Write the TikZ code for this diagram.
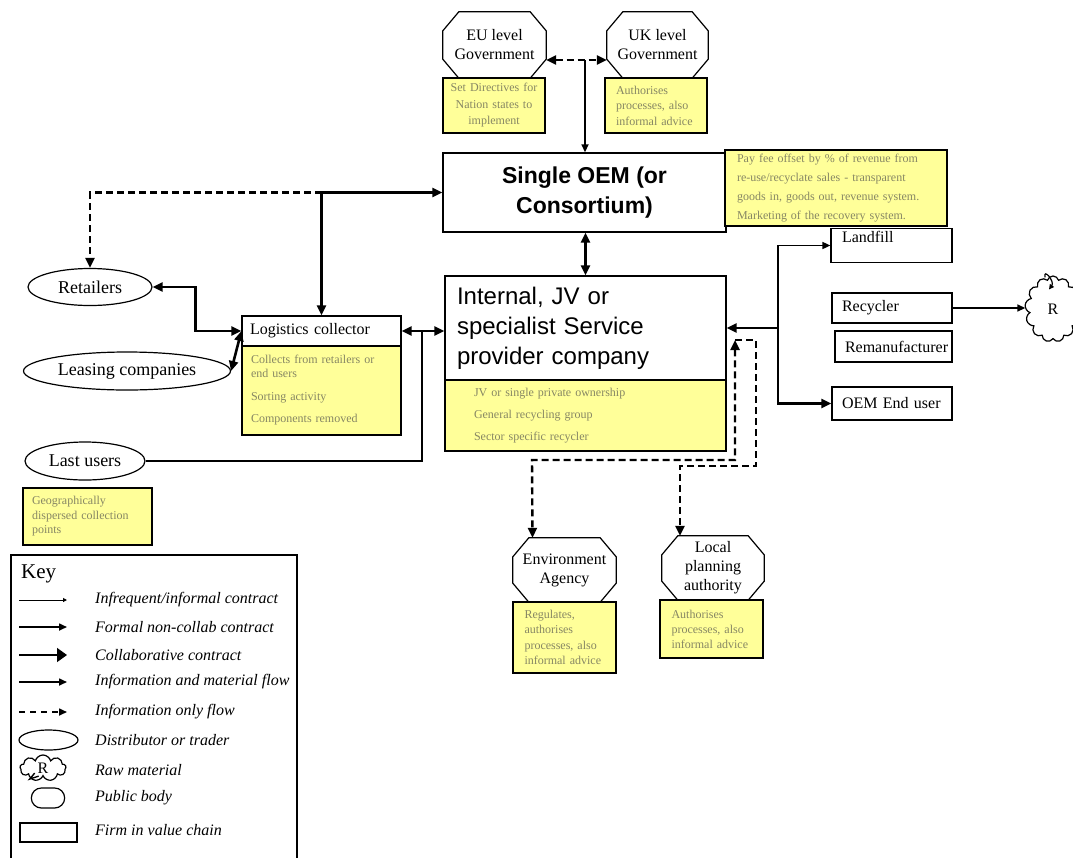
\documentclass[tikz,border=0pt]{standalone}
\usepackage{fontspec}
\setmainfont{Liberation Serif}
\setsansfont{Liberation Sans}
\usetikzlibrary{arrows.meta,shapes.geometric,shapes.misc,shapes.symbols}
\definecolor{jaune}{RGB}{255,255,153}
\definecolor{textenote}{RGB}{135,135,100}
\newcommand{\fntbox}{\fontsize{16}{19}\selectfont}
\newcommand{\fntovale}{\fontsize{18}{21}\selectfont}
\newcommand{\fntgouv}{\fontsize{16}{19}\selectfont}
\newcommand{\fntserv}{\sffamily\fontsize{24}{30}\selectfont}
\newcommand{\fntoem}{\sffamily\bfseries\fontsize{23}{30}\selectfont}
\newcommand{\fntcle}{\itshape\fontsize{16}{19}\selectfont}
% octogone autour d'un noeud (organisme public)
\newcommand{\octogone}[1]{\draw[line width=1.2pt] ([xshift=16pt]#1.north west) -- ([xshift=-16pt]#1.north east)
  -- ([yshift=-19pt]#1.north east) -- ([yshift=19pt]#1.south east) -- ([xshift=-16pt]#1.south east)
  -- ([xshift=16pt]#1.south west) -- ([yshift=19pt]#1.south west) -- ([yshift=-19pt]#1.north west) -- cycle;}
\begin{document}
\begin{tikzpicture}[x=1pt,y=-1pt, % 1 unite = 1 pixel, y vers le bas
  firm/.style={draw,line width=1.2pt,rectangle,inner sep=0pt,align=left,font=\fntbox},
  note/.style={draw,line width=1.4pt,fill=jaune,inner sep=0pt,align=left,text=textenote},
  trader/.style={draw,line width=1.2pt,ellipse,inner sep=0pt,font=\fntovale},
  publicbody/.style={rectangle,minimum width=103pt,minimum height=66pt,inner sep=0pt,align=center,font=\fntgouv},
  flow/.style={line width=2.6pt,>={Triangle[length=10pt,width=9pt]}},
  formal/.style={line width=1.6pt,>={Triangle[length=8pt,width=7pt]}},
  info/.style={line width=2.4pt,dash pattern=on 7pt off 4pt,>={Triangle[length=10pt,width=9pt]}},
  cle/.style={anchor=west,inner sep=0pt,font=\fntcle}]
\useasboundingbox (0,0) rectangle (1073,857);
% les gouvernements
\node[publicbody] (eu) at (494.5,45) {EU level\\Government};
\octogone{eu}
\node[publicbody,minimum width=101pt] (uk) at (657.5,45) {UK level\\Government};
\octogone{uk}
\node[note,minimum width=102pt,minimum height=55pt,text width=96pt,align=center,
  font=\fontsize{12}{16.5}\selectfont] (eunote) at (494,105.5) {Set Directives for\\Nation states to\\implement};
\node[note,minimum width=102pt,minimum height=55pt,text width=80pt,
  font=\fontsize{12}{15.5}\selectfont] (uknote) at (656,105.5) {Authorises\\processes, also\\informal advice};
% le fabricant
\node[draw,line width=1.4pt,minimum width=283pt,minimum height=79pt,align=center,font=\fntoem] (oem) at (584.5,192.5) {Single OEM (or\\Consortium)};
\node[note,minimum width=222pt,minimum height=76pt,text width=198pt,
  font=\fontsize{12}{19}\selectfont] (oemnote) at (836,188) {Pay fee offset by \% of revenue from\\re-use/recyclate sales - transparent\\goods in, goods out, revenue system.\\Marketing of the recovery system.};
% le prestataire
\node[draw,line width=1.4pt,minimum width=281pt,minimum height=104pt,text width=257pt,align=left,font=\fntserv] (service) at (585.5,328) {Internal, JV or\\specialist Service\\provider company};
\node[note,minimum width=281pt,minimum height=71pt,text width=223pt,
  font=\fontsize{12}{22}\selectfont] (servicenote) at (585.5,415.5) {JV or single private ownership\\General recycling group\\Sector specific recycler};
% la collecte
\node[firm,minimum width=159pt,minimum height=30pt,text width=143pt] (logistics) at (321.5,331) {Logistics collector};
\node[note,minimum width=159pt,minimum height=89pt,text width=141pt,
  font=\fontsize{12}{14}\selectfont] (lognote) at (321.5,390.5) {Collects from retailers or\\end users\\[9pt]Sorting activity\\[8pt]Components removed};
\node[trader,minimum width=124pt,minimum height=37pt] (retailers) at (90,287) {Retailers};
\node[trader,minimum width=207pt,minimum height=38pt] (leasing) at (127,371) {Leasing companies};
\node[trader,minimum width=120pt,minimum height=38pt] (lastusers) at (85,461) {Last users};
\node[note,minimum width=129pt,minimum height=57pt,text width=111pt,
  font=\fontsize{12}{14.5}\selectfont] (geonote) at (87.5,516.5) {Geographically\\dispersed collection\\points};
% les debouches
\node[firm,minimum width=121pt,text width=99pt,text depth=18pt,inner ysep=2pt] (landfill) at (891.5,245.5) {Landfill};
\node[firm,minimum width=120pt,minimum height=30pt,text width=100pt] (recycler) at (892,308) {Recycler};
\node[firm,minimum width=117pt,minimum height=31pt,text width=97pt] (reman) at (893.5,346.5) {Remanufacturer};
\node[firm,minimum width=120pt,minimum height=33pt,text width=100pt] (enduser) at (892,403.5) {OEM End user};
\node[cloud,draw,line width=1.2pt,cloud puffs=13,minimum width=56pt,minimum height=66pt,inner sep=0pt,font=\fntbox] (rawmat) at (1053,309) {R};
% les organismes publics
\node[publicbody,minimum height=64pt] (envag) at (564.5,570) {Environment\\Agency};
\octogone{envag}
\node[note,minimum width=103pt,minimum height=71pt,text width=80pt,
  font=\fontsize{12}{15.5}\selectfont] (envnote) at (564.5,637.5) {Regulates,\\authorises\\processes, also\\informal advice};
\node[publicbody,minimum width=102pt,minimum height=64pt] (localpa) at (713,568) {Local\\planning\\authority};
\octogone{localpa}
\node[note,minimum width=103pt,minimum height=58pt,text width=80pt,
  font=\fontsize{12}{15}\selectfont] (localnote) at (711.5,629) {Authorises\\processes, also\\informal advice};
% points de passage
\coordinate (gouv) at (585,60);
\coordinate (lujoin) at (422,331);
\coordinate (rsplit) at (778,328);
\coordinate (dtip) at (735,340);
\coordinate (envbend) at (532,460);
\coordinate (lpbend) at (680,466);
% les liaisons
\draw[info,<->] ([yshift=-15pt]eu.east) -- ([yshift=-15pt]uk.west);
\draw[formal,->] (gouv) -- (gouv |- oem.north);
\draw[flow,<->] (logistics.north) |- (oem.west);
\draw[info,->] (logistics.north |- oem.west) -| (retailers.north);
\draw[flow,<->] (retailers.east) -- ++(43,0) |- (logistics.west);
\draw[flow,<->] (leasing.east) -- (logistics.west);
\draw[flow,<->] (logistics.east) -- (logistics.east -| service.west);
\draw[flow] (lastusers.east) -| (lujoin);
\draw[flow,<->] (oem.south -| service.north) -- (service.north);
\draw[flow,<-] (service.east) -- (rsplit);
\draw[formal,->] (rsplit) |- (landfill.west);
\draw[flow,->] (rsplit) |- (enduser.west);
\draw[formal,->] (recycler.east) -- (recycler.east -| rawmat.west);
\draw[line width=1.2pt,-{Triangle[length=5pt,width=5pt]}] ([shift={(-8,2)}]rawmat.north) .. controls +(-2,-10) and +(6,-8) .. ([shift={(-4,14)}]rawmat.north);
\draw[info,<->] (dtip) |- (envbend) -- ([xshift=-32pt]envag.north);
\draw[info,->] (dtip) -- ++(21,0) |- (lpbend) -- ([xshift=-33pt]localpa.north);
% la legende
\draw[line width=1.2pt] (11,860) -- (11,555) -- (297,555) -- (297,860);
\node[anchor=west,inner sep=0pt,font=\fontsize{21}{24}\selectfont] (key) at (21,574) {Key};
\draw[line width=1pt,-{Triangle[length=4pt,width=4pt]}] (19,600) -- (67,600);
\draw[formal,->] (19,627) -- (67,627);
\draw[line width=1.6pt,-{Triangle[length=10pt,width=14pt]}] (19,655) -- (67,655);
\draw[formal,->] (19,682) -- (67,682);
\draw[formal,dash pattern=on 6pt off 5pt,->] (19,712) -- (67,712);
\node[trader,minimum width=59pt,minimum height=20pt] (kdistrib) at (48.5,740) {};
\node[cloud,draw,line width=1.2pt,cloud puffs=9,minimum width=46pt,minimum height=26pt,inner sep=0pt,font=\fntbox] (kraw) at (43,768) {R};
\draw[line width=1.4pt] ([shift={(6,-3)}]kraw.south west) -- ++(-5,6) -- ++(9,-3);
\node[draw,line width=1.2pt,rounded rectangle,minimum width=40pt,minimum height=20pt] (kpublic) at (48,798) {};
\node[draw,line width=1.2pt,minimum width=57pt,minimum height=19pt] (kfirm) at (48.5,832.5) {};
\node[cle] (k1) at (95,600) {Infrequent/informal contract};
\node[cle] (k2) at (95,627) {Formal non-collab contract};
\node[cle] (k3) at (95,655) {Collaborative contract};
\node[cle] (k4) at (95,682) {Information and material flow};
\node[cle] (k5) at (95,712) {Information only flow};
\node[cle] (k6) at (95,740) {Distributor or trader};
\node[cle] (k7) at (95,770) {Raw material};
\node[cle] (k8) at (95,798) {Public body};
\node[cle] (k9) at (95,830) {Firm in value chain};
\end{tikzpicture}
\end{document}
